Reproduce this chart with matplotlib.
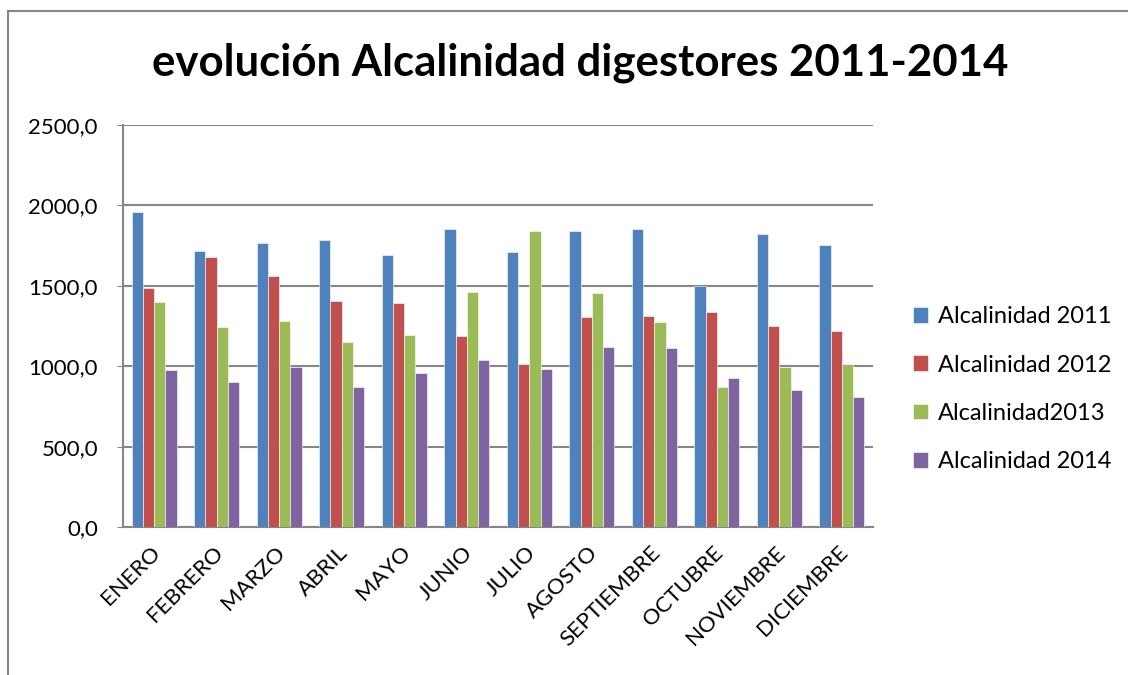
import matplotlib.pyplot as plt
import matplotlib.transforms as mtransforms
import numpy as np

meses = ['ENERO', 'FEBRERO', 'MARZO', 'ABRIL', 'MAYO', 'JUNIO', 'JULIO',
         'AGOSTO', 'SEPTIEMBRE', 'OCTUBRE', 'NOVIEMBRE', 'DICIEMBRE']
alc_2011 = [1961, 1718, 1763, 1784, 1689, 1854, 1711, 1843, 1850, 1499, 1821, 1753]
alc_2012 = [1485, 1678, 1559, 1406, 1394, 1188, 1017, 1307, 1313, 1338, 1250, 1221]
alc_2013 = [1402, 1247, 1283, 1148, 1196, 1462, 1841, 1456, 1272, 872, 998, 1014]
alc_2014 = [975, 901, 996, 874, 955, 1041, 984, 1120, 1111, 926, 850, 808]
series_names = ['Alcalinidad 2011', 'Alcalinidad 2012', 'Alcalinidad2013', 'Alcalinidad 2014']
y_ticks = [0, 500, 1000, 1500, 2000, 2500]

colors = ['#4F81BD', '#C0504D', '#9BBB59', '#8064A2']
plt.rcParams['font.family'] = ['Lato', 'DejaVu Sans']

fig = plt.figure(figsize=(11.28, 6.75), dpi=100)
ax = fig.add_axes([0.109, 0.219, 0.665, 0.596])

x = np.arange(len(meses))
w = 0.18
for i, (vals, name) in enumerate(zip([alc_2011, alc_2012, alc_2013, alc_2014], series_names)):
    ax.bar(x + (i - 1.5) * w, vals, width=w, color=colors[i], label=name,
           edgecolor='white', linewidth=0.4, zorder=3)

ax.set_xlim(-0.5, len(meses) - 0.5)
ax.set_ylim(0, 2500)
ax.set_yticks(y_ticks)
ax.set_yticklabels([f'{v:.1f}'.replace('.', ',') for v in y_ticks], fontsize=16)
ax.set_xticks(x)
ax.set_xticklabels(meses, rotation=45, ha='right', va='center', rotation_mode='anchor', fontsize=16)
ax.tick_params(axis='x', length=0, pad=16)
ax.tick_params(axis='y', length=4, color='#868686', pad=14)
# nudge month labels slightly to the right
offset = mtransforms.ScaledTranslation(3 / 100, 0, fig.dpi_scale_trans)
for lbl in ax.get_xticklabels():
    lbl.set_transform(lbl.get_transform() + offset)
ax.yaxis.grid(True, color='#868686', linewidth=1.5, zorder=0)
for s in ['top', 'right']:
    ax.spines[s].set_visible(False)
for s in ['left', 'bottom']:
    ax.spines[s].set_color('#868686')
    ax.spines[s].set_linewidth(1.5)

fig.text(0.514, 0.907, 'evolución Alcalinidad digestores 2011-2014', ha='center', va='center',
         fontsize=31.5, fontweight='bold')

leg = ax.legend(loc='center left', bbox_to_anchor=(1.025, 0.343), frameon=False, fontsize=17,
                handlelength=0.65, handleheight=0.65, handletextpad=0.4, labelspacing=1.15)

# chart border (cut off on the right and bottom)
fig.add_artist(plt.Line2D([0.007, 1.0], [0.984, 0.984], color='#868686', linewidth=1.5))
fig.add_artist(plt.Line2D([0.007, 0.007], [0.0, 0.984], color='#868686', linewidth=1.5))

fig.savefig('out.png', dpi=100)
